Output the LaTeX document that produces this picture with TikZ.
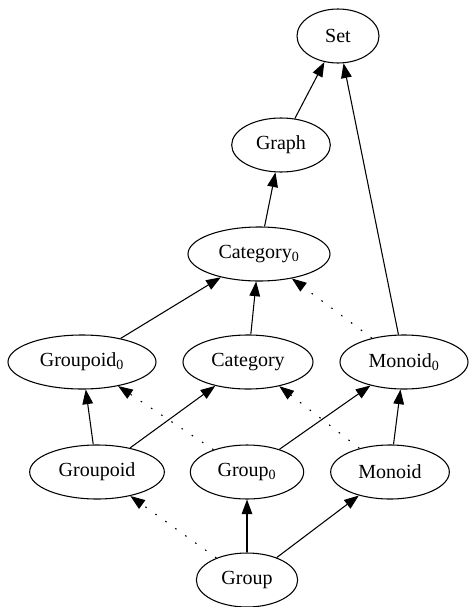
\documentclass[tikz,border=0pt]{standalone}
\usepackage{fontspec}
\setmainfont{Liberation Serif}
\usetikzlibrary{arrows.meta,shapes.geometric}

\begin{document}
\begin{tikzpicture}[x=0.75pt,y=-0.75pt,
    every node/.style={draw,ellipse,line width=0.8pt,inner sep=1pt,minimum height=40.5pt,font=\fontsize{15}{18}\selectfont},
    every edge/.style={draw,line width=0.8pt,-{Triangle[length=11pt,width=8pt]}},
    weak/.style={dash pattern=on 1.2pt off 8pt}]
\useasboundingbox (0,0) rectangle (468,607);
\node[minimum width=61.5pt] (set) at (338,36) {Set};
    \node[minimum width=74pt] (graph) at (281,145) {Graph};
    \node[minimum width=106.5pt] (cat0) at (259,254) {Category\textsubscript{0}};
    
    \node[minimum width=111pt] (gpd0) at (82,362) {Groupoid\textsubscript{0}};
    \node[minimum width=97.5pt] (cat) at (248,362) {Category};
    \node[minimum width=96pt] (mon0) at (404,362) {Monoid\textsubscript{0}};
    
    \node[minimum width=101pt] (gpd) at (97,472) {Groupoid};
    \node[minimum width=85pt] (grp0) at (247,472) {Group\textsubscript{0}};
    \node[minimum width=89pt] (mon) at (390,472) {Monoid};
    
    \node[minimum width=76pt] (grp) at (247,580) {Group};
    
    \path (graph) edge (set);
    \path (mon0) edge (set);
    \path (cat0) edge (graph);
    \path (gpd0) edge (cat0);
    \path (cat) edge (cat0);
    \path[weak] (mon0) edge (cat0);
    \path (gpd) edge (gpd0);
    \path (gpd) edge (cat);
    \path[weak] (grp0) edge (gpd0);
    \path (grp0) edge (mon0);
    \path[weak] (mon) edge (cat);
    \path (mon) edge (mon0);
    \path[weak] (grp) edge (gpd);
    \path (grp) edge (grp0);
    \path (grp) edge (mon);
\end{tikzpicture}
\end{document}
